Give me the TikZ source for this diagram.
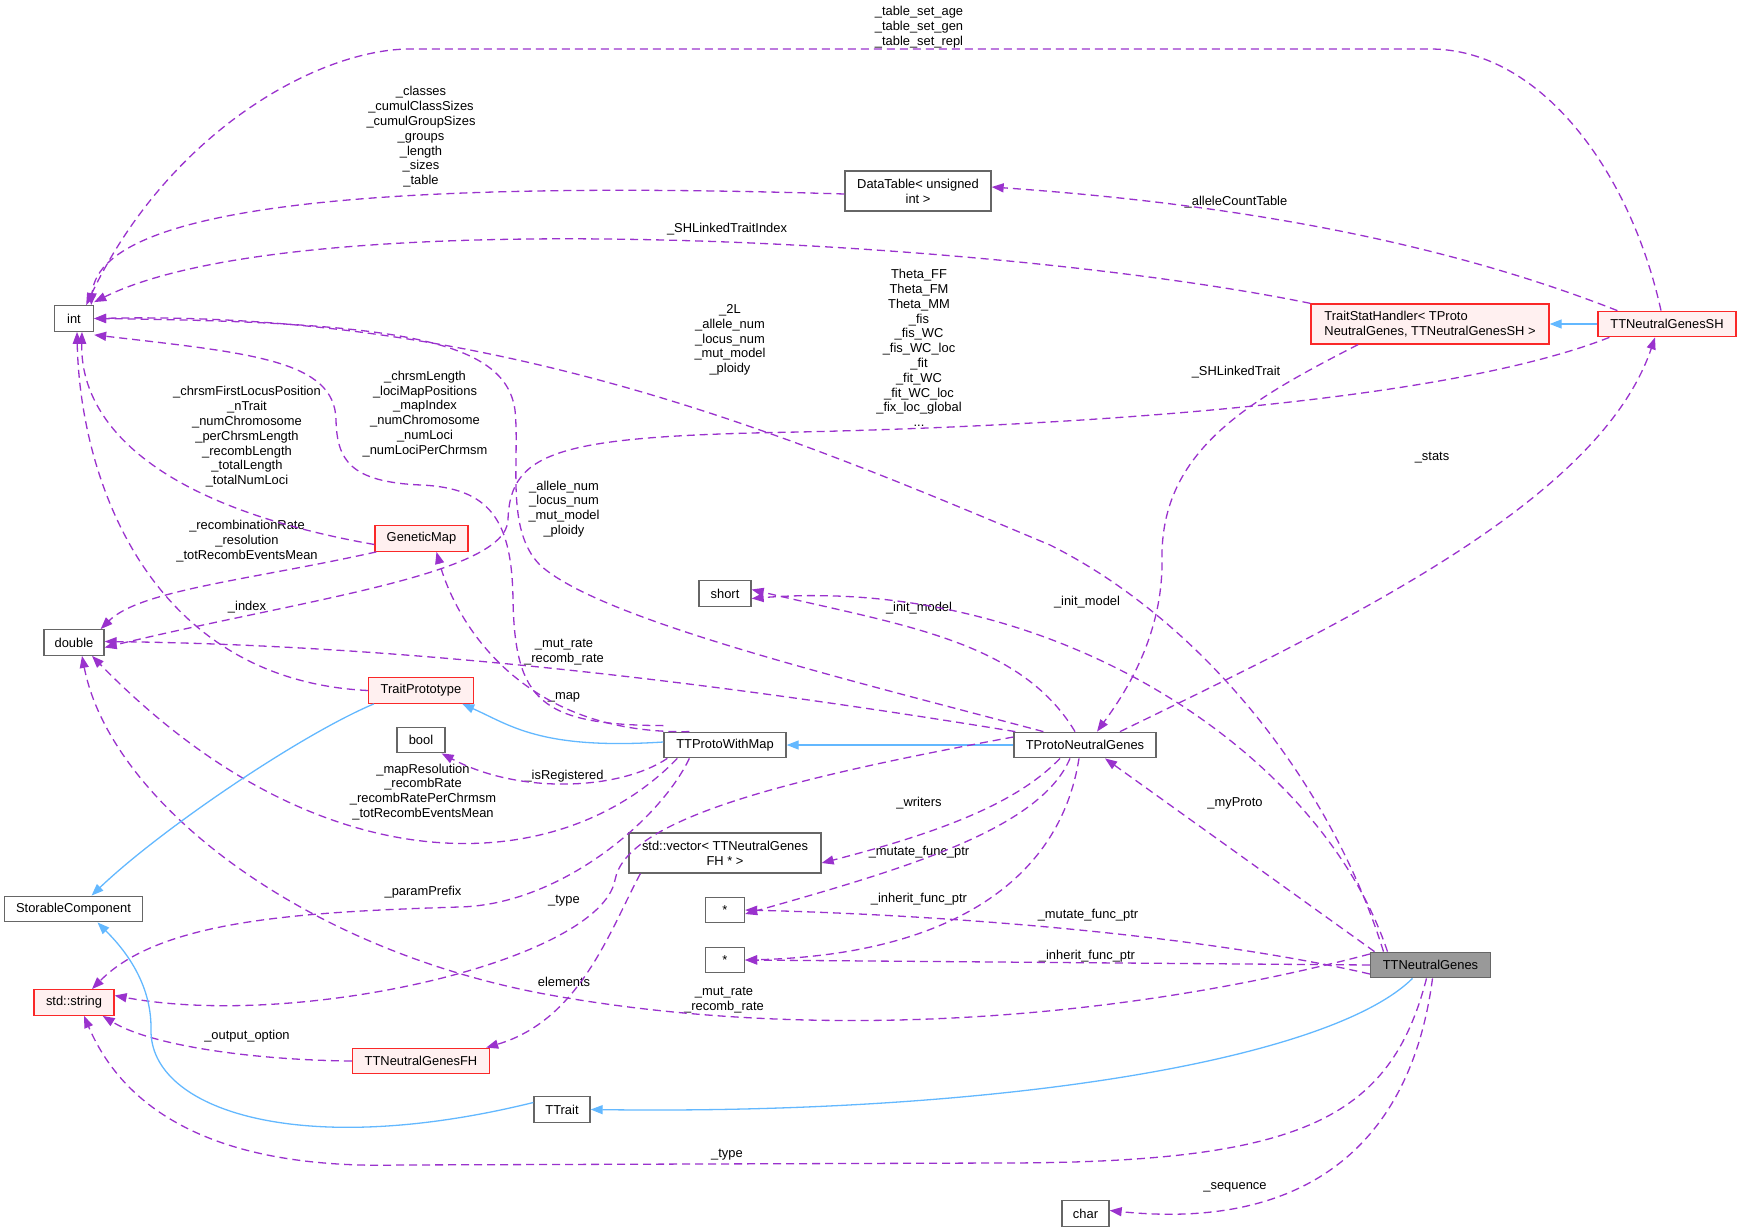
\documentclass[tikz,border=0pt]{standalone}
\usepackage{fontspec}
\setmainfont{Liberation Sans}
\usetikzlibrary{arrows.meta}

\definecolor{edgepurple}{RGB}{154,50,205}
\definecolor{edgeblue}{RGB}{99,184,255}
\definecolor{boxgray}{RGB}{102,102,102}
\definecolor{boxred}{RGB}{250,40,40}
\definecolor{boxpink}{RGB}{255,240,240}
\definecolor{boxfill}{RGB}{153,153,153}

\tikzset{
  classbox/.style={draw=boxgray, fill=white, line width=1.3pt, inner sep=0pt,
    minimum height=25.5pt, align=center, font=\fontsize{12.9}{14.8}\selectfont},
  redbox/.style={classbox, draw=boxred, fill=boxpink},
  membertxt/.style={inner sep=0pt, align=center, font=\fontsize{12.9}{14.8}\selectfont},
  uses/.style={draw=edgepurple, line width=1.3pt, dash pattern=on 8pt off 5pt,
    -{Triangle[length=12pt,width=9pt]}},
  inherits/.style={draw=edgeblue, line width=1.3pt, -{Triangle[length=12pt,width=9pt]}},
}

\begin{document}
\begin{tikzpicture}[x=1pt,y=1pt,yscale=-1,xscale=1]
\useasboundingbox (0,0) rectangle (1741,1231);

%Shape: classes
\node[classbox, minimum width=39pt] (nint) at (74,318.5) {int};
\node[classbox, minimum width=60pt] (ndouble) at (74,642.5) {double};
\node[classbox, minimum width=138pt] (nstorable) at (73.5,909) {StorableComponent};
\node[redbox, minimum width=80pt] (nstring) at (74,1002.5) {std::string};
\node[redbox, minimum width=93pt] (ngmap) at (421.5,538.5) {GeneticMap};
\node[redbox, minimum width=105pt] (ntproto) at (421,690.5) {TraitPrototype};
\node[classbox, minimum width=48pt] (nbool) at (421,740) {bool};
\node[redbox, minimum width=137pt] (ntfh) at (421,1061) {TTNeutralGenesFH};
\node[classbox, minimum width=56pt] (nttrait) at (562,1109.5) {TTrait};
\node[classbox, minimum width=52pt] (nshort) at (725,593.5) {short};
\node[classbox, minimum width=122pt] (ntpwm) at (725,745) {TTProtoWithMap};
\node[classbox, minimum width=192pt, minimum height=40pt] (nvec) at (725,853) {std::vector\textless{} TTNeutralGenes\\FH * \textgreater{}};
\node[classbox, minimum width=39pt] (nptra) at (725,910) {*};
\node[classbox, minimum width=39pt] (nptrb) at (725,960) {*};
\node[classbox, minimum width=146pt, minimum height=40pt] (ndtable) at (918,191) {DataTable\textless{} unsigned\\int \textgreater{}};
\node[classbox, minimum width=142pt] (ntpng) at (1085,745) {TProtoNeutralGenes};
\node[classbox, minimum width=47pt] (nchar) at (1085.5,1213.5) {char};
\node[redbox, minimum width=238pt, minimum height=40pt, align=left] (ntsh) at (1430,324) {TraitStatHandler\textless{} TProto\\NeutralGenes, TTNeutralGenesSH \textgreater{}};
\node[redbox, minimum width=138pt] (ntngsh) at (1667,324) {TTNeutralGenesSH};
\node[classbox, fill=boxfill, minimum width=120pt] (ntng) at (1430.5,965) {TTNeutralGenes};

% Text Node
\node[membertxt] (ltableset) at (919,27) {\_table\_set\_age\\\_table\_set\_gen\\\_table\_set\_repl};
\node[membertxt] (lclasses) at (421,137) {\_classes\\\_cumulClassSizes\\\_cumulGroupSizes\\\_groups\\\_length\\\_sizes\\\_table};
\node[membertxt] (llinkidx) at (727,229) {\_SHLinkedTraitIndex};
\node[membertxt] (ltwol) at (730,340) {\_2L\\\_allele\_num\\\_locus\_num\\\_mut\_model\\\_ploidy};
\node[membertxt] (lallele) at (564,509) {\_allele\_num\\\_locus\_num\\\_mut\_model\\\_ploidy};
\node[membertxt] (lchrsm) at (425,414) {\_chrsmLength\\\_lociMapPositions\\\_mapIndex\\\_numChromosome\\\_numLoci\\\_numLociPerChrmsm};
\node[membertxt] (lfirstlocus) at (247,437) {\_chrsmFirstLocusPosition\\\_nTrait\\\_numChromosome\\\_perChrsmLength\\\_recombLength\\\_totalLength\\\_totalNumLoci};
\node[membertxt] (lindex) at (247,607) {\_index};
\node[membertxt] (lcount) at (1236,202) {\_alleleCountTable};
\node[membertxt] (ltheta) at (919,348) {Theta\_FF\\Theta\_FM\\Theta\_MM\\\_fis\\\_fis\_WC\\\_fis\_WC\_loc\\\_fit\\\_fit\_WC\\\_fit\_WC\_loc\\\_fix\_loc\_global\\...};
\node[membertxt] (llinked) at (1236,372) {\_SHLinkedTrait};
\node[membertxt] (lstats) at (1432,458) {\_stats};
\node[membertxt] (lrecomb) at (247,541) {\_recombinationRate\\\_resolution\\\_totRecombEventsMean};
\node[membertxt] (lmutrate) at (564,652) {\_mut\_rate\\\_recomb\_rate};
\node[membertxt] (lmapres) at (423,792) {\_mapResolution\\\_recombRate\\\_recombRatePerChrmsm\\\_totRecombEventsMean};
\node[membertxt] (lmutrateb) at (724,1000) {\_mut\_rate\\\_recomb\_rate};
\node[membertxt] (lmap) at (564,697) {\_map};
\node[membertxt] (lreg) at (564,776) {\_isRegistered};
\node[membertxt] (linit) at (919,608) {\_init\_model};
\node[membertxt] (linitb) at (1087,602) {\_init\_model};
\node[membertxt] (lwriters) at (919,803) {\_writers};
\node[membertxt] (lmutate) at (919,852) {\_mutate\_func\_ptr};
\node[membertxt] (linherit) at (919,899) {\_inherit\_func\_ptr};
\node[membertxt] (lmutateb) at (1088,915) {\_mutate\_func\_ptr};
\node[membertxt] (linheritb) at (1087,956) {\_inherit\_func\_ptr};
\node[membertxt] (lproto) at (1235,803) {\_myProto};
\node[membertxt] (lprefix) at (423,892) {\_paramPrefix};
\node[membertxt] (ltype) at (564,901) {\_type};
\node[membertxt] (lelements) at (564,982) {elements};
\node[membertxt] (loutput) at (247,1036) {\_output\_option};
\node[membertxt] (ltypeb) at (727,1155) {\_type};
\node[membertxt] (lsequence) at (1235,1187) {\_sequence};

% Connection: into int
\draw[uses] ([xshift=-6pt]ntngsh.north) .. controls (1630,170) and (1540,49) .. (1430,49) -- (410,49) .. controls (320,49) and (170,130) .. ([xshift=-8pt]nint.north east);
\draw[uses] ([yshift=3pt]ndtable.west) .. controls (450,182) and (100,195) .. ([xshift=-3pt]nint.north east);
\draw[uses] (ntsh.north west) .. controls (1000,240) and (300,200) .. ([yshift=-3pt]nint.north east);
\draw[uses] ([xshift=-47pt]ntng.north) .. controls (1330,780) and (1200,620) .. (1050,545) .. controls (800,440) and (500,310) .. (nint.east);
\draw[uses] ([xshift=30pt]ntpng.north west) .. controls (850,680) and (600,620) .. (540,565) .. controls (505,530) and (520,460) .. (515,410) .. controls (505,340) and (400,322) .. (nint.east);
\draw[uses] ([yshift=-6pt]ntpwm.north west) .. controls (540,725) and (515,700) .. (513,600) .. controls (512,520) and (490,488) .. (421,485) .. controls (350,482) and (337,460) .. (336,420) .. controls (335,360) and (250,353) .. ([yshift=3pt]nint.south east);
\draw[uses] ([yshift=6pt]ngmap.west) .. controls (150,505) and (80,420) .. ([xshift=8pt]nint.south);
\draw[uses] (ntproto.west) .. controls (150,680) and (80,480) .. ([xshift=3pt]nint.south);

% Connection: stat handler
\draw[inherits] (ntngsh.west) -- (ntsh.east);
\draw[uses] ([xshift=20pt]ntngsh.north west) .. controls (1450,245) and (1250,205) .. ([yshift=-4pt]ndtable.east);
\draw[uses] ([xshift=12pt]ntngsh.south west) .. controls (1450,400) and (1100,425) .. (800,432) .. controls (560,436) and (510,450) .. (508,520) .. controls (506,575) and (300,600) .. ([yshift=5pt]ndouble.east);
\draw[uses] ([xshift=-72pt]ntsh.south) .. controls (1250,400) and (1160,450) .. (1162,560) .. controls (1163,640) and (1120,700) .. ([xshift=12pt]ntpng.north);
\draw[uses] ([xshift=35pt]ntpng.north) .. controls (1350,620) and (1600,500) .. ([xshift=-12pt]ntngsh.south);

% Connection: into double
\draw[uses] ([xshift=2pt]ngmap.south west) .. controls (250,580) and (140,590) .. ([xshift=-4pt]ndouble.north east);
\draw[uses] ([xshift=2pt]ntpng.north west) .. controls (700,680) and (400,645) .. ([yshift=-1pt]ndouble.east);
\draw[uses] ([xshift=14pt]ntpwm.south west) .. controls (560,880) and (320,890) .. ([xshift=18pt]ndouble.south);
\draw[uses] ([yshift=-11pt]ntng.west) .. controls (1100,1025) and (800,1040) .. (550,995) .. controls (300,950) and (110,800) .. ([xshift=8pt]ndouble.south);

% Connection: prototypes
\draw[uses] ([xshift=26pt]ntpwm.north west) .. controls (520,735) and (455,620) .. ([xshift=15pt]ngmap.south);
\draw[inherits] ([yshift=-3pt]ntpwm.west) .. controls (540,750) and (510,725) .. ([xshift=-12pt]ntproto.south east);
\draw[inherits] ([xshift=6pt]ntproto.south west) .. controls (300,735) and (160,830) .. ([xshift=18pt]nstorable.north);
\draw[uses] ([xshift=4pt]ntpwm.south west) .. controls (620,790) and (520,795) .. ([xshift=-4pt]nbool.south east);
\draw[inherits] (ntpng.west) -- (ntpwm.east);
\draw[uses] ([xshift=-10pt]ntpng.north) .. controls (1020,640) and (900,625) .. ([yshift=-4pt]nshort.east);
\draw[uses] ([xshift=-43pt]ntng.north) .. controls (1320,750) and (1050,575) .. ([yshift=5pt]nshort.east);
\draw[uses] ([xshift=-25pt]ntpng.south) .. controls (1020,800) and (950,830) .. ([yshift=10pt]nvec.east);
\draw[uses] ([xshift=-15pt]ntpng.south) .. controls (1040,830) and (900,870) .. ([yshift=4pt]nptra.east);
\draw[uses] ([xshift=-6pt]ntpng.south) .. controls (1060,880) and (950,955) .. (nptrb.east);
\draw[uses] ([yshift=9pt]ntng.west) .. controls (1200,935) and (950,915) .. (nptra.east);
\draw[uses] (ntng.west) -- (nptrb.east);
\draw[uses] ([xshift=-56pt]ntng.north) -- ([xshift=20pt]ntpng.south);

% Connection: into std::string
\draw[uses] ([xshift=26pt]ntpwm.south west) .. controls (660,820) and (560,905) .. (459,907) .. controls (300,912) and (160,920) .. ([xshift=18pt]nstring.north);
\draw[uses] ([yshift=-8pt]ntpng.west) .. controls (780,780) and (626,820) .. (615,880) .. controls (600,960) and (300,1030) .. ([yshift=-7pt]nstring.east);
\draw[uses] ([xshift=12pt]nvec.south west) .. controls (610,930) and (580,1020) .. ([xshift=-4pt]ntfh.north east);
\draw[uses] (ntfh.west) .. controls (250,1060) and (150,1045) .. ([xshift=-12pt]nstring.south east);

% Connection: trait
\draw[inherits] ([xshift=-18pt]ntng.south) .. controls (1330,1060) and (1000,1115) .. (nttrait.east);
\draw[inherits] ([yshift=-7pt]nttrait.west) .. controls (300,1160) and (150,1110) .. (151,1030) .. controls (152,980) and (120,945) .. ([xshift=24pt]nstorable.south);
\draw[uses] ([xshift=-4pt]ntng.south) .. controls (1390,1120) and (1300,1163) .. (1000,1163) -- (400,1165) .. controls (200,1170) and (120,1100) .. ([xshift=10pt]nstring.south);
\draw[uses] ([xshift=2pt]ntng.south) .. controls (1410,1150) and (1300,1230) .. ([yshift=-3pt]nchar.east);

\end{tikzpicture}
\end{document}
